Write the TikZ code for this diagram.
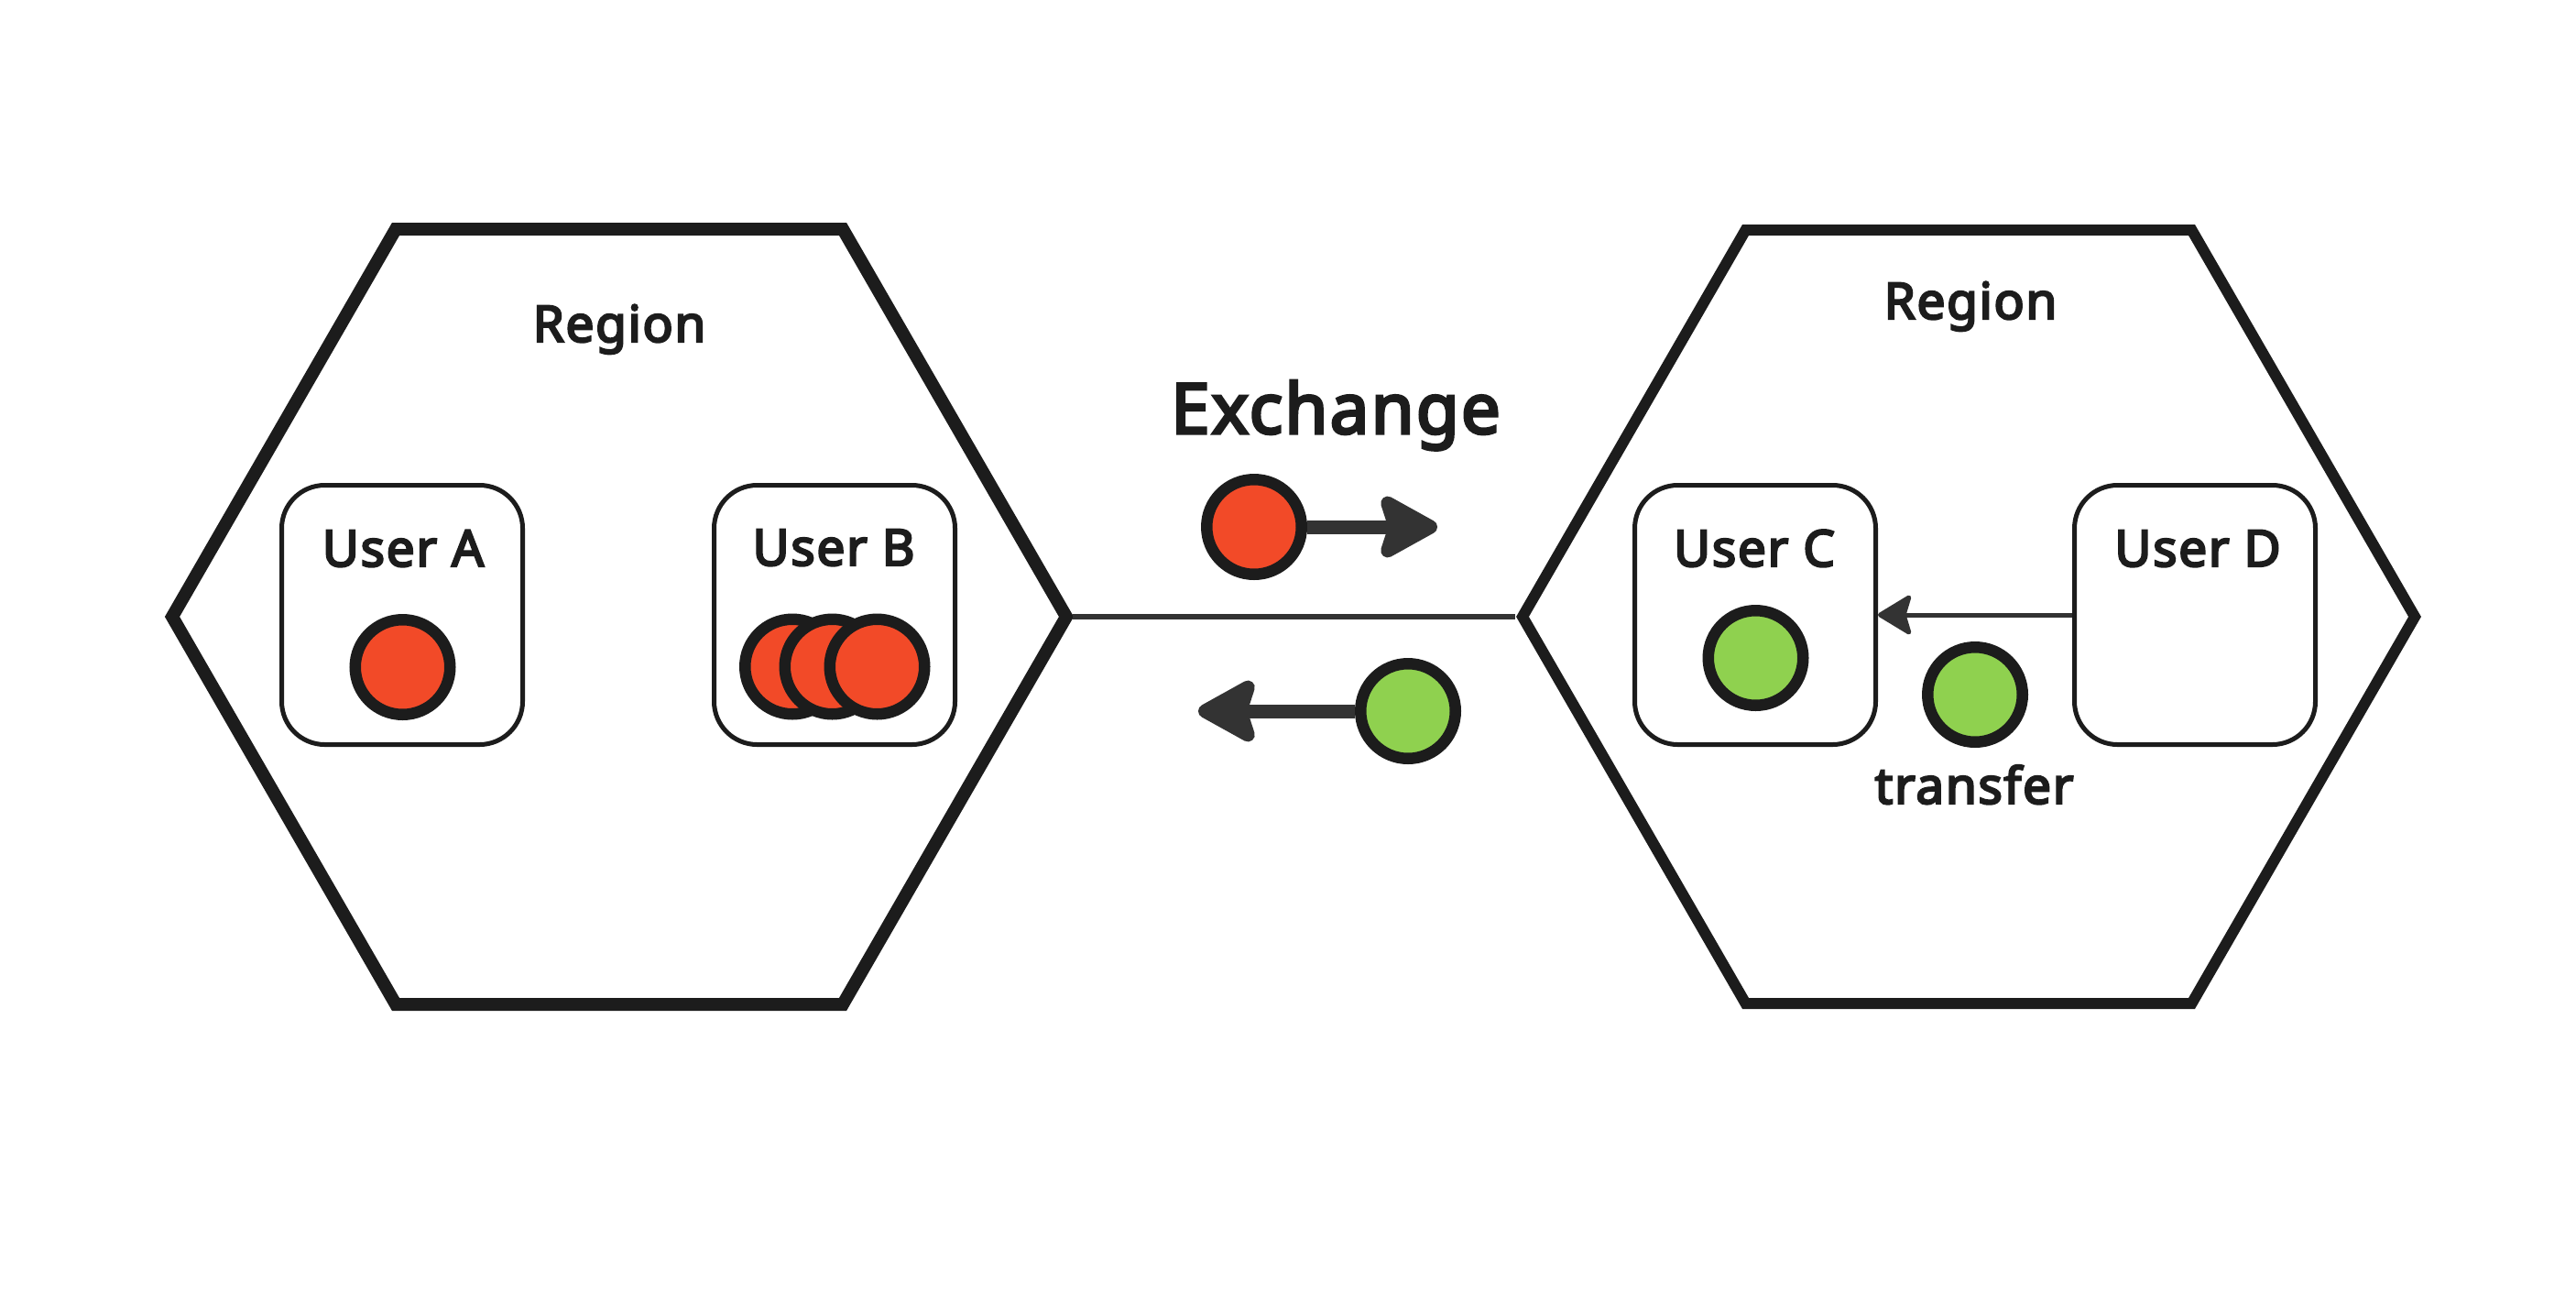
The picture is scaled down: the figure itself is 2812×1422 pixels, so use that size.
\documentclass[tikz,border=0pt]{standalone}
\usepackage{fontspec}
\setmainfont{Noto Sans}[AutoFakeBold=4.2, LetterSpace=3]
\usetikzlibrary{arrows.meta}
\definecolor{ink}{HTML}{1C1C1C}
\definecolor{linkgray}{HTML}{333333}
\definecolor{coinred}{HTML}{F24A28}
\definecolor{coingreen}{HTML}{8FD14F}
\begin{document}
\begin{tikzpicture}[x=1pt,y=-1pt,
  hexline/.style={draw=ink, line join=miter},
  userbox/.style={draw=ink, line width=5pt, rounded corners=47pt, minimum width=263pt, minimum height=283pt, inner sep=0pt},
  coin/.style={circle, draw=ink, line width=12.5pt, minimum size=103.5pt, inner sep=0pt},
  redcoin/.style={coin, fill=coinred},
  greencoin/.style={coin, fill=coingreen},
  lbl/.style={font=\fontsize{55}{60}\selectfont\bfseries, text=ink, inner sep=0pt, anchor=base},
  biglbl/.style={font=\fontsize{76}{84}\selectfont\bfseries, text=ink, inner sep=0pt, anchor=base},
  link/.style={draw=linkgray, line width=6.4pt},
  bigarrow/.style={draw=linkgray, line width=15pt, -{Stealth[length=74pt, width=80pt, inset=12pt, round]}},
  smallarrow/.style={draw=linkgray, line width=5pt, -{Stealth[length=40pt, width=48pt, inset=7pt, round]}},
]
\fill[white] (0,0) rectangle (2812,1422);
\useasboundingbox (0,0) rectangle (2812,1422);

% hexagons (regions)
\draw[hexline, line width=14pt] (188,673) -- (432,250) -- (920,250) -- (1164,673) -- (920,1096) -- (432,1096) -- cycle;
\draw[hexline, line width=12pt] (1662,673) -- (1905.5,251) -- (2392.5,251) -- (2636,673) -- (2392.5,1095) -- (1905.5,1095) -- cycle;
\coordinate (lE) at (1164,673);
\coordinate (rW) at (1662,673);
\draw[link, shorten <=7pt, shorten >=8pt] (lE) -- (rW);

% labels
\node[lbl] (regL) at (676,373) {Region};
\node[lbl] (regR) at (2151,348) {Region};
\node[biglbl] (exch) at (1458,473) {Exchange};
\node[lbl] (trans) at (2155,877) {transfer};

% user boxes
\node[userbox] (boxA) at (439,671) {};
\node[userbox] (boxB) at (911,671) {};
\node[userbox] (boxC) at (1916,671) {};
\node[userbox] (boxD) at (2396,671) {};
\node[lbl] (lblA) at (440,618) {User A};
\node[lbl] (lblB) at (910,617) {User B};
\node[lbl] (lblC) at (1915,618) {User C};
\node[lbl] (lblD) at (2399,618) {User D};

% coins
\node[redcoin] (coinA) at (439.5,728) {};
\node[redcoin] (coinB1) at (865,727.5) {};
\node[redcoin] (coinB2) at (908.5,727.5) {};
\node[redcoin] (coinB3) at (957.5,727.5) {};
\node[redcoin] (exRed) at (1369,575) {};
\node[greencoin] (exGreen) at (1537,776) {};
\node[greencoin] (coinC) at (1916.5,718) {};
\node[greencoin] (coinT) at (2156,758) {};

% arrows
\coordinate (exTipR) at (1569,575);
\coordinate (exTipL) at (1308,776);
\draw[bigarrow] (exRed.east) -- (exTipR);
\draw[bigarrow] (exGreen.west) -- (exTipL);
\draw[smallarrow] (boxD.west) -- (boxC.east);
\end{tikzpicture}
\end{document}
